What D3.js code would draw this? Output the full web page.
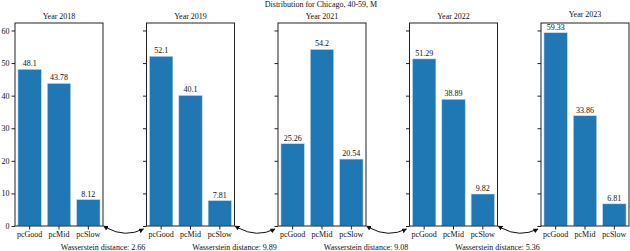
<!DOCTYPE html>
<html>
<head>
<meta charset="utf-8">
<script src="https://cdn.jsdelivr.net/npm/d3@7"></script>
<style>
  body { margin: 0; background: #fff; }
  text { font-family: "Liberation Serif", "DejaVu Serif", serif; fill: #111; }
</style>
</head>
<body>
<div id="chart"></div>
<script>
// data
const years = [2018, 2019, 2021, 2022, 2023];
const categories = ["pcGood", "pcMid", "pcSlow"];
const pcGood = [48.1, 52.1, 25.26, 51.29, 59.33];
const pcMid = [43.78, 40.1, 54.2, 38.89, 33.86];
const pcSlow = [8.12, 7.81, 20.54, 9.82, 6.81];
const distances = [2.66, 9.89, 9.08, 5.36];
const yTicks = [0, 10, 20, 30, 40, 50, 60];
const title = "Distribution for Chicago, 40-59, M";

const W = 630, H = 251;
svg = d3.select('#chart')
    .append('svg')
    .attr("width", W)
    .attr("height", H);

// defs for the arrow heads
const defs = svg.append("defs");
["start", "end"].forEach(k => {
    defs.append("marker")
        .attr("id", "head-" + k)
        .attr("viewBox", "0 0 10 10")
        .attr("refX", k == "end" ? 9 : 1)
        .attr("refY", 5)
        .attr("markerWidth", 5)
        .attr("markerHeight", 5)
        .attr("orient", "auto-start-reverse")
        .append("path")
        .attr("d", "M0,0 L10,5 L0,10 z")
        .style("fill", "#111");
});

const panelLeft = 15, panelStep = 131.5, panelW = 88;
const plotTop = 23, plotBottom = 226;

const y = d3.scaleLinear()
    .domain([0, d3.max(pcGood.concat(pcMid, pcSlow)) * 1.05])
    .range([plotBottom, plotTop]);

const px = d3.scaleBand()
    .domain(years)
    .range([panelLeft, panelLeft + panelStep * years.length]);

// suptitle
svg.append("text")
    .text(title)
    .attr("x", 321)
    .attr("y", 7)
    .attr("text-anchor", "middle")
    .style("font-size", "8px");

years.forEach((yr, i) => {
    const x0 = px(yr);
    const g = svg.append("g").attr("transform", `translate(${x0},0)`);
    const x = d3.scaleBand()
        .domain(categories)
        .range([0, panelW])
        .paddingInner(0.2)
        .paddingOuter(0.1);
    const vals = [pcGood[i], pcMid[i], pcSlow[i]];

    g.selectAll("rect.bar")
        .data(categories)
        .join("rect")
        .attr("class", "bar")
        .attr("x", d => x(d))
        .attr("width", x.bandwidth())
        .attr("y", (d, j) => y(vals[j]))
        .attr("height", (d, j) => plotBottom - y(vals[j]))
        .style("fill", "#1f77b4")
        .style("stroke", "#cfe0ee")
        .style("stroke-width", 0.6);

    g.selectAll("text.val")
        .data(categories)
        .join("text")
        .attr("class", "val")
        .text((d, j) => vals[j])
        .attr("x", d => x(d) + x.bandwidth() / 2)
        .attr("y", (d, j) => y(vals[j]) - 3)
        .attr("text-anchor", "middle")
        .style("font-size", "8px");

    // y axis, labels only on the first panel
    const yAxis = d3.axisLeft(y).tickValues(yTicks).tickSize(3.5).tickPadding(2);
    if (i > 0) yAxis.tickFormat("");
    const ya = g.append("g").call(yAxis);
    ya.select(".domain").remove();
    ya.selectAll("line").style("stroke", "#222");
    ya.selectAll("text").style("font-size", "8px").style("font-family", "Liberation Serif");

    const xAxis = d3.axisBottom(x).tickSize(3.5).tickPadding(2);
    const xa = g.append("g").attr("transform", `translate(0,${plotBottom})`).call(xAxis);
    xa.select(".domain").remove();
    xa.selectAll("line").style("stroke", "#222");
    xa.selectAll("text").style("font-size", "8px").style("font-family", "Liberation Serif");

    // frame
    g.append("rect")
        .attr("x", 0)
        .attr("y", plotTop)
        .attr("width", panelW)
        .attr("height", plotBottom - plotTop)
        .style("fill", "none")
        .style("stroke", "#222")
        .style("stroke-width", 1);

    g.append("text")
        .text("Year " + yr)
        .attr("x", panelW / 2)
        .attr("y", i == years.length - 1 ? 17 : 19)
        .attr("text-anchor", "middle")
        .style("font-size", "8px");
});

// arrows and distances between neighbouring panels
distances.forEach((d, i) => {
    const xr = px(years[i]) + panelW;
    const xl = px(years[i + 1]);
    const x1 = xr + 4, x2 = xl - 3;
    svg.append("path")
        .attr("d", `M${x1},228 Q${(x1 + x2) / 2},238 ${x2},229`)
        .style("fill", "none")
        .style("stroke", "#111")
        .style("stroke-width", 1)
        .attr("marker-start", "url(#head-start)")
        .attr("marker-end", "url(#head-end)");

    svg.append("text")
        .text("Wasserstein distance: " + d)
        .attr("x", xr)
        .attr("y", 250)
        .attr("text-anchor", "middle")
        .style("font-size", "8px");
});
</script>
</body>
</html>
